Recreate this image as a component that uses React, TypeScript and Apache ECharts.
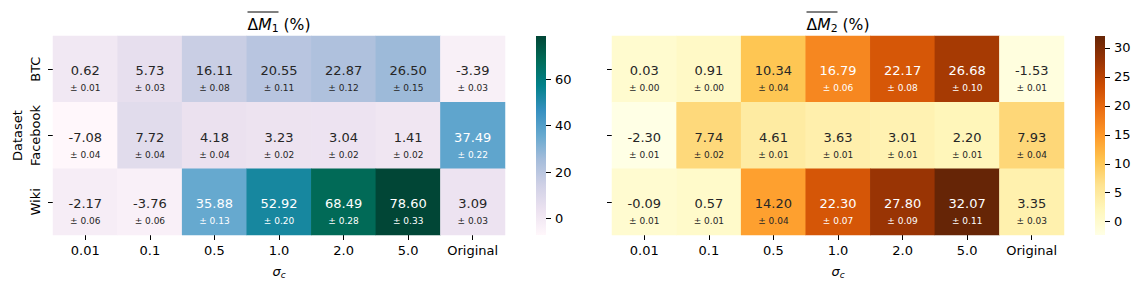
import React, { useEffect, useRef } from "react";
import * as echarts from "echarts";

const sigmaLabels = ["0.01", "0.1", "0.5", "1.0", "2.0", "5.0", "Original"];
const datasets = ["BTC", "Facebook", "Wiki"];

const m1Values = [
  [0.62, 5.73, 16.11, 20.55, 22.87, 26.5, -3.39],
  [-7.08, 7.72, 4.18, 3.23, 3.04, 1.41, 37.49],
  [-2.17, -3.76, 35.88, 52.92, 68.49, 78.6, 3.09],
];
const m1Errors = [
  [0.01, 0.03, 0.08, 0.11, 0.12, 0.15, 0.03],
  [0.04, 0.04, 0.04, 0.02, 0.02, 0.02, 0.22],
  [0.06, 0.06, 0.13, 0.2, 0.28, 0.33, 0.03],
];
const m2Values = [
  [0.03, 0.91, 10.34, 16.79, 22.17, 26.68, -1.53],
  [-2.3, 7.74, 4.61, 3.63, 3.01, 2.2, 7.93],
  [-0.09, 0.57, 14.2, 22.3, 27.8, 32.07, 3.35],
];
const m2Errors = [
  [0.0, 0.0, 0.04, 0.06, 0.08, 0.1, 0.01],
  [0.01, 0.02, 0.01, 0.01, 0.01, 0.01, 0.04],
  [0.01, 0.01, 0.04, 0.07, 0.09, 0.11, 0.03],
];
const m1Ticks = [0, 20, 40, 60];
const m2Ticks = [0, 5, 10, 15, 20, 25, 30];

const PuBuGn = ["#fff7fb", "#ece2f0", "#d0d1e6", "#a6bddb", "#67a9cf", "#3690c0", "#02818a", "#016c59", "#014636"];
const YlOrBr = ["#ffffe5", "#fff7bc", "#fee391", "#fec44f", "#fe9929", "#ec7014", "#cc4c02", "#993404", "#662506"];

const FONT = "DejaVu Sans";
const FS = 13;
const TFS = 15.6;

function hexToRgb(h: string) {
  return [parseInt(h.slice(1, 3), 16), parseInt(h.slice(3, 5), 16), parseInt(h.slice(5, 7), 16)];
}
function cmapAt(cmap: string[], t: number) {
  const x = Math.max(0, Math.min(1, t)) * (cmap.length - 1);
  const i = Math.min(cmap.length - 2, Math.floor(x));
  const f = x - i;
  const a = hexToRgb(cmap[i]);
  const b = hexToRgb(cmap[i + 1]);
  return a.map((v, k) => v + (b[k] - v) * f);
}
function textColorFor(rgb: number[]) {
  const lin = rgb.map((c) => {
    const s = c / 255;
    return s <= 0.03928 ? s / 12.92 : Math.pow((s + 0.055) / 1.055, 2.4);
  });
  const lum = 0.2126 * lin[0] + 0.7152 * lin[1] + 0.0722 * lin[2];
  return lum > 0.408 ? "#262626" : "#ffffff";
}

function buildData(values: number[][], cmap: string[], vmin: number, vmax: number) {
  const out: any[] = [];
  values.forEach((row, r) =>
    row.forEach((v, c) => {
      const rgb = cmapAt(cmap, (v - vmin) / (vmax - vmin));
      out.push({ value: [c, r, v], label: { color: textColorFor(rgb) } });
    })
  );
  return out;
}

function gradientStops(cmap: string[]) {
  return cmap.map((c, i) => ({ offset: i / (cmap.length - 1), color: c }));
}

export default function App() {
  const ref = useRef<HTMLDivElement>(null);
  useEffect(() => {
    if (!ref.current) return;
    const chart = echarts.init(ref.current, undefined, { renderer: "svg" });
    const m1Min = Math.min(...m1Values.flat());
    const m1Max = Math.max(...m1Values.flat());
    const m2Min = Math.min(...m2Values.flat());
    const m2Max = Math.max(...m2Values.flat());

    const catX = (gridIndex: number) => ({
      type: "category",
      gridIndex,
      data: sigmaLabels,
      axisLine: { show: false },
      axisTick: { show: true, alignWithLabel: true, interval: 0, length: 5, lineStyle: { color: "#000", width: 1 } },
      axisLabel: { color: "#000", fontSize: FS, fontFamily: FONT, margin: 9, interval: 0 },
      splitLine: { show: false },
      name: "{s|σ}{c|c}",
      nameLocation: "middle",
      nameGap: 29,
      nameTextStyle: {
        rich: {
          s: { fontSize: FS, fontFamily: FONT, fontStyle: "italic", color: "#000" },
          c: { fontSize: 9, fontFamily: FONT, fontStyle: "italic", color: "#000", padding: [6, 0, 0, 0] },
        },
      },
    });
    const catY = (gridIndex: number, showLabels: boolean) => ({
      type: "category",
      gridIndex,
      data: datasets,
      inverse: true,
      axisLine: { show: false },
      axisTick: { show: true, alignWithLabel: true, interval: 0, length: 5, lineStyle: { color: "#000", width: 1 } },
      axisLabel: { show: showLabels, color: "#000", fontSize: FS, fontFamily: FONT, rotate: 90, margin: 11, interval: 0 },
      splitLine: { show: false },
      name: showLabels ? "Dataset" : "",
      nameLocation: "middle",
      nameGap: 29,
      nameRotate: 90,
      nameTextStyle: { color: "#000", fontSize: FS, fontFamily: FONT },
    });
    const cbX = (gridIndex: number) => ({ type: "category", gridIndex, data: ["c"], show: false });
    const cbY = (gridIndex: number, min: number, max: number, ticks: number[]) => ({
      type: "value",
      gridIndex,
      min,
      max,
      position: "right",
      axisLine: { show: false },
      splitLine: { show: false },
      axisTick: { show: true, customValues: ticks, length: 5, lineStyle: { color: "#000", width: 1 } },
      axisLabel: { customValues: ticks, color: "#000", fontSize: FS, fontFamily: FONT, margin: 9 },
    });

    const labelCfg = (errors: number[][]) => ({
      show: true,
      offset: [0, 8],
      formatter: (p: any) => {
        const [c, r, v] = p.value;
        return `{v|${v.toFixed(2)}}\n{e|± ${errors[r][c].toFixed(2)}}`;
      },
      rich: {
        v: { fontSize: FS, fontFamily: FONT, lineHeight: 22 },
        e: { fontSize: 9, fontFamily: FONT, lineHeight: 13 },
      },
    });

    const cbSeries = (xi: number, yi: number, min: number, max: number, cmap: string[]) => ({
      type: "custom",
      xAxisIndex: xi,
      yAxisIndex: yi,
      data: [[0, min, max]],
      encode: { x: 0, y: [1, 2] },
      silent: true,
      renderItem: (params: any, api: any) => {
        const cs = params.coordSys;
        const top = api.coord([0, api.value(2)])[1];
        const bottom = api.coord([0, api.value(1)])[1];
        return {
          type: "rect",
          shape: { x: cs.x, y: top, width: cs.width, height: bottom - top },
          style: { fill: new echarts.graphic.LinearGradient(0, 1, 0, 0, gradientStops(cmap)) },
        };
      },
    });

    const title = (cx: number, sub: string) => [
      {
        type: "text",
        x: cx,
        y: 24.5,
        style: {
          text: `{d|Δ}{m|M}{s|${sub}}{p| (%)}`,
          align: "center",
          verticalAlign: "middle",
          rich: {
            d: { fontSize: TFS, fontFamily: FONT, fill: "#000" },
            m: { fontSize: TFS, fontFamily: FONT, fontStyle: "italic", fill: "#000" },
            s: { fontSize: 10.9, fontFamily: FONT, fill: "#000", padding: [7, 0, 0, 0] },
            p: { fontSize: TFS, fontFamily: FONT, fill: "#000" },
          },
        },
      },
      {
        type: "line",
        shape: { x1: cx - 31.5, y1: 12, x2: cx - 0.5, y2: 12 },
        style: { stroke: "#000", lineWidth: 1 },
      },
    ];

    chart.setOption({
      animation: false,
      backgroundColor: "#fff",
      textStyle: { fontFamily: FONT },
      grid: [
        { left: 53, top: 36, width: 452, height: 199 },
        { left: 612, top: 36, width: 452, height: 199 },
        { left: 536, top: 36, width: 10, height: 199 },
        { left: 1095, top: 36, width: 10, height: 199 },
      ],
      xAxis: [catX(0), catX(1), cbX(2), cbX(3)],
      yAxis: [catY(0, true), catY(1, false), cbY(2, m1Min, m1Max, m1Ticks), cbY(3, m2Min, m2Max, m2Ticks)],
      visualMap: [
        { type: "continuous", show: false, seriesIndex: 0, dimension: 2, min: m1Min, max: m1Max, inRange: { color: PuBuGn } },
        { type: "continuous", show: false, seriesIndex: 1, dimension: 2, min: m2Min, max: m2Max, inRange: { color: YlOrBr } },
      ],
      series: [
        { type: "heatmap", xAxisIndex: 0, yAxisIndex: 0, data: buildData(m1Values, PuBuGn, m1Min, m1Max), label: labelCfg(m1Errors), emphasis: { disabled: true } },
        { type: "heatmap", xAxisIndex: 1, yAxisIndex: 1, data: buildData(m2Values, YlOrBr, m2Min, m2Max), label: labelCfg(m2Errors), emphasis: { disabled: true } },
        cbSeries(2, 2, m1Min, m1Max, PuBuGn),
        cbSeries(3, 3, m2Min, m2Max, YlOrBr),
      ],
      graphic: [...title(279, "1"), ...title(838, "2")],
    });
    return () => chart.dispose();
  }, []);
  return <div ref={ref} style={{ position: "absolute", left: 0, top: 0, width: 1142, height: 289, background: "#fff" }} />;
}
